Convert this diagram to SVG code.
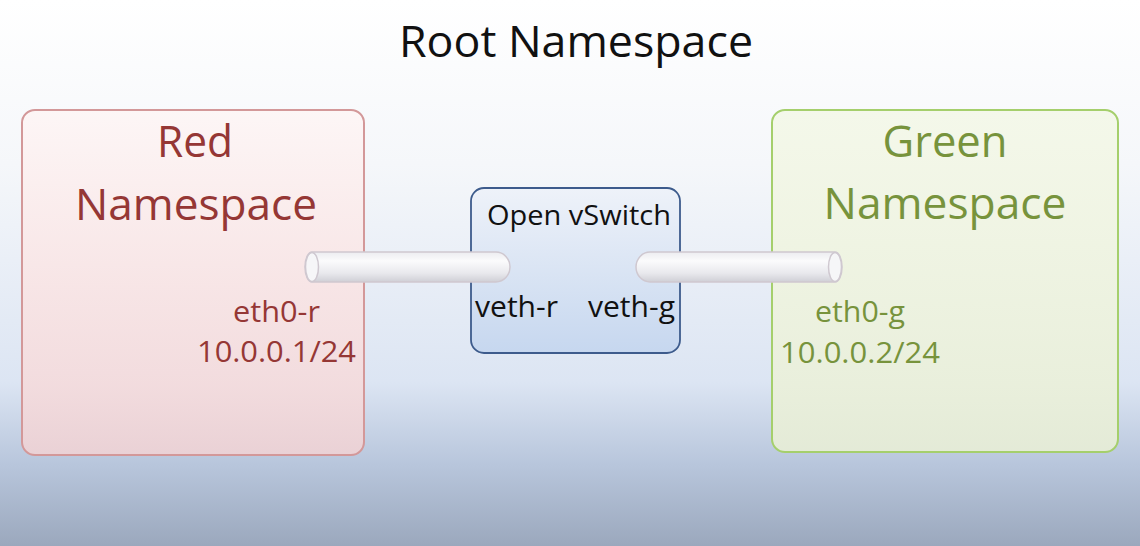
<svg xmlns="http://www.w3.org/2000/svg" width="1140" height="546" viewBox="0 0 1140 546">
<defs>
<linearGradient id="bg" x1="0" y1="0" x2="0" y2="1">
<stop offset="0" stop-color="#ffffff"/>
<stop offset="0.3" stop-color="#f5f7fa"/>
<stop offset="0.7" stop-color="#dce5f3"/>
<stop offset="0.85" stop-color="#b8c6dc"/>
<stop offset="1" stop-color="#9ba8bd"/>
</linearGradient>
<linearGradient id="redfill" x1="0" y1="0" x2="0" y2="1">
<stop offset="0" stop-color="#fdf6f6"/>
<stop offset="1" stop-color="#f5d3d3" stop-opacity="0.8"/>
</linearGradient>
<linearGradient id="greenfill" x1="0" y1="0" x2="0" y2="1">
<stop offset="0" stop-color="#f4f8ea"/>
<stop offset="1" stop-color="#e8eed6" stop-opacity="0.9"/>
</linearGradient>
<linearGradient id="ovsfill" x1="0" y1="0" x2="0" y2="1">
<stop offset="0" stop-color="#eef2f9"/>
<stop offset="1" stop-color="#c6d7ef"/>
</linearGradient>
<linearGradient id="pipe" x1="0" y1="0" x2="0" y2="1">
<stop offset="0" stop-color="#ececf0"/>
<stop offset="0.3" stop-color="#fbfbfc"/>
<stop offset="0.7" stop-color="#e9e9ed"/>
<stop offset="1" stop-color="#cfcfd6"/>
</linearGradient>
</defs>
<style>
text{font-family:"Open Sans","Noto Sans","Liberation Sans",sans-serif;}
.title{font-size:43px;fill:#111;}
.red{fill:#953735;}
.green{fill:#77933c;}
.big{font-size:44px;}
.mid{font-size:29px;}
.blk{fill:#111;}
.pipe{fill:url(#pipe);stroke:#cfc8d0;stroke-width:1.5;}
.end{fill:#f6f6f8;stroke:#cfc8d0;stroke-width:1.5;}
</style>
<rect x="0" y="0" width="1140" height="546" fill="url(#bg)"/>
<text class="title" x="576" y="57" text-anchor="middle" textLength="354" lengthAdjust="spacingAndGlyphs">Root Namespace</text>

<g id="red-ns">
<rect x="22" y="110" width="342" height="345" rx="13" fill="url(#redfill)" stroke="#d39899" stroke-width="2"/>
<text class="red big" x="195" y="157" text-anchor="middle" textLength="76" lengthAdjust="spacingAndGlyphs">Red</text>
<text class="red big" x="196" y="220" text-anchor="middle" textLength="242" lengthAdjust="spacingAndGlyphs">Namespace</text>
<text class="red mid" x="233" y="322" textLength="87" lengthAdjust="spacingAndGlyphs">eth0-r</text>
<text class="red mid" x="197" y="362" textLength="159" lengthAdjust="spacingAndGlyphs">10.0.0.1/24</text>
</g>

<g id="green-ns">
<rect x="772" y="110" width="346" height="342" rx="13" fill="url(#greenfill)" stroke="#a5cf6c" stroke-width="2"/>
<text class="green big" x="945" y="157" text-anchor="middle" textLength="125" lengthAdjust="spacingAndGlyphs">Green</text>
<text class="green big" x="945" y="219" text-anchor="middle" textLength="243" lengthAdjust="spacingAndGlyphs">Namespace</text>
<text class="green mid" x="815" y="322" textLength="90" lengthAdjust="spacingAndGlyphs">eth0-g</text>
<text class="green mid" x="780" y="363" textLength="160" lengthAdjust="spacingAndGlyphs">10.0.0.2/24</text>
</g>

<g id="ovs">
<rect x="471" y="188" width="209" height="165" rx="13" fill="url(#ovsfill)" stroke="#3d5b8c" stroke-width="1.8"/>
<text class="blk" x="487" y="225" font-size="28" textLength="184" lengthAdjust="spacingAndGlyphs">Open vSwitch</text>
<text class="blk mid" x="475" y="317" textLength="83" lengthAdjust="spacingAndGlyphs">veth-r</text>
<text class="blk mid" x="588" y="317" textLength="87" lengthAdjust="spacingAndGlyphs">veth-g</text>
</g>

<g id="connectors">
<g id="pipe-red">
<path class="pipe" d="M312 252 H496 A14 15 0 0 1 496 282 H312 A7 15 0 0 1 312 252 Z"/>
<ellipse class="end" cx="312" cy="267" rx="6.5" ry="14.5"/>
</g>
<g id="pipe-green">
<path class="pipe" d="M650 252 H835 A7 15 0 0 1 835 282 H650 A14 15 0 0 1 650 252 Z"/>
<ellipse class="end" cx="835" cy="267" rx="6.5" ry="14.5"/>
</g>
</g>
</svg>
